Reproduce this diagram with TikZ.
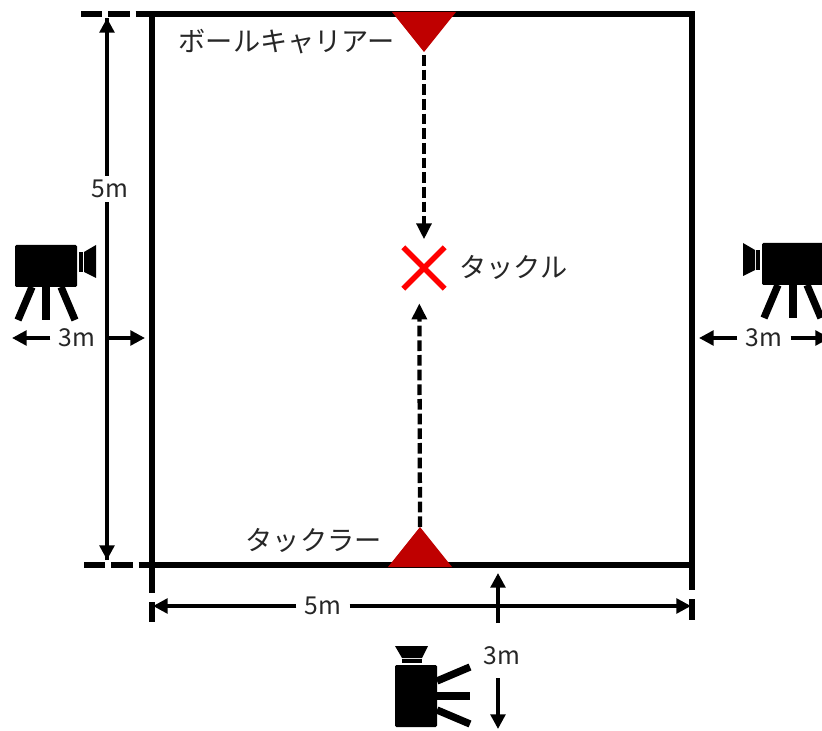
\documentclass[tikz,border=0pt]{standalone}
\usepackage{fontspec}
\setmainfont{Noto Sans CJK JP}
\usetikzlibrary{arrows.meta,shapes.misc}

\tikzset{
  camera/.pic={
    \fill[rounded corners=1pt] (-31,-21) rectangle (31,21);     % body
    \fill (33,-14) rectangle (37,6);                            % neck
    \fill (38,-14) -- (50,-21) -- (50,12) -- (38,6) -- cycle;   % lens
    \draw[line width=5.5pt] (-14,21) -- (-28,54);
    \draw[line width=5.5pt] (0,21) -- (0,54);
    \draw[line width=5.5pt] (15,21) -- (29,54);
  }
}

\begin{document}
\begin{tikzpicture}[
  x=0.75pt, y=-0.75pt,
  font=\fontsize{20.4pt}{24pt}\selectfont,
  text=black!85,
  field/.style={line width=5pt},
  guide/.style={line width=5pt, dash pattern=on 16pt off 4.5pt},
  tick/.style={line width=5pt},
  dim/.style={line width=2.6pt, -{Triangle[length=11pt,width=11pt]}},
  flow/.style={line width=3.2pt, dash pattern=on 8pt off 3pt, -{Triangle[length=12pt,width=11pt]}},
  player/.style={fill=red!75!black},
  note/.style={inner sep=0pt},
  dimnote/.style={note, font=\fontsize{18.5pt}{24pt}\selectfont, fill=white, inner xsep=6pt, inner ysep=3pt},
  tacklemark/.style={cross out, draw=red, line width=4pt, minimum size=27pt, inner sep=0pt}
]
\clip (0,0) rectangle (822,731);

% --- Corners of the field ---
\coordinate (tl) at (152,14);
\coordinate (tr) at (692,14);
\coordinate (bl) at (152,565);
\coordinate (br) at (692,565);

% --- Field ---
\draw[field] (tl) -- (tr) -- (br) -- (bl) -- cycle;

% --- Guides left of the field ---
\coordinate (gt) at (81,14);
\coordinate (gb) at (84,565);
\draw[guide] (gt) -- (tl);
\draw[guide] (gb) -- (bl);

% --- Players ---
\fill[player] (392,12) -- (456,12) -- (424,52) -- cycle;
\fill[player] (388,567) -- (452,567) -- (420,527) -- cycle;
\coordinate (carrier) at (424,55);
\coordinate (tackler) at (420,527);
\node[note, anchor=east] (carriertext) at (395,42) {ボールキャリアー};
\node[note, anchor=east] (tacklertext) at (382,540) {タックラー};

% --- Tackle point ---
\node[tacklemark] (tackle) at (424,268) {};
\node[note, anchor=west] (tackletext) at (459,267) {タックル};
\draw[flow] (carrier) -- ([yshift=6pt]tackle.north);
\draw[flow] (tackler) -- ([xshift=-3.5pt,yshift=-11pt]tackle.south);

% --- 5m, left side ---
\coordinate (lt) at (107,18);
\coordinate (lb) at (107,560);
\draw[dim] (lb) -- (lt);
\draw[dim] (lt) -- (lb);
\node[dimnote] (leftfive) at (110,189) {5m};

% --- 5m, bottom side ---
\coordinate (ba) at (153,606);
\coordinate (bb) at (691,606);
\node[dimnote] (bottomfive) at (323,606) {5m};
\draw[dim] (bottomfive) -- (ba);
\draw[dim] (bottomfive) -- (bb);
\draw[tick] (152,567) -- (152,593);
\draw[tick] (152,602) -- (152,622);
\draw[tick] (692,567) -- (692,590);
\draw[tick] (692,599) -- (692,620);

% --- 3m, left camera ---
\coordinate (la) at (12,338);
\coordinate (lc) at (145,338);
\node[dimnote] (leftthree) at (77,338) {3m};
\draw[dim] (leftthree) -- (la);
\draw[dim] ([xshift=3pt]leftthree.east) -- (lc);

% --- 3m, right camera ---
\coordinate (ra) at (699,338);
\coordinate (rc) at (830,338);
\node[dimnote] (rightthree) at (764,338) {3m};
\draw[dim] (rightthree) -- (ra);
\draw[dim] (rightthree) -- (rc);

% --- 3m, bottom camera ---
\coordinate (ua) at (498,573);
\coordinate (uc) at (498,623);
\coordinate (da) at (498,729);
\coordinate (dc) at (498,678);
\node[note, font=\fontsize{18.5pt}{24pt}\selectfont] (bottomthree) at (502,656) {3m};
\draw[dim] (uc) -- (ua);
\draw[dim] (dc) -- (da);

% --- Cameras ---
\pic at (46,266) {camera};
\pic[xscale=-1] at (793,264) {camera};
\pic[rotate=90] at (416,696) {camera};

\end{tikzpicture}
\end{document}
